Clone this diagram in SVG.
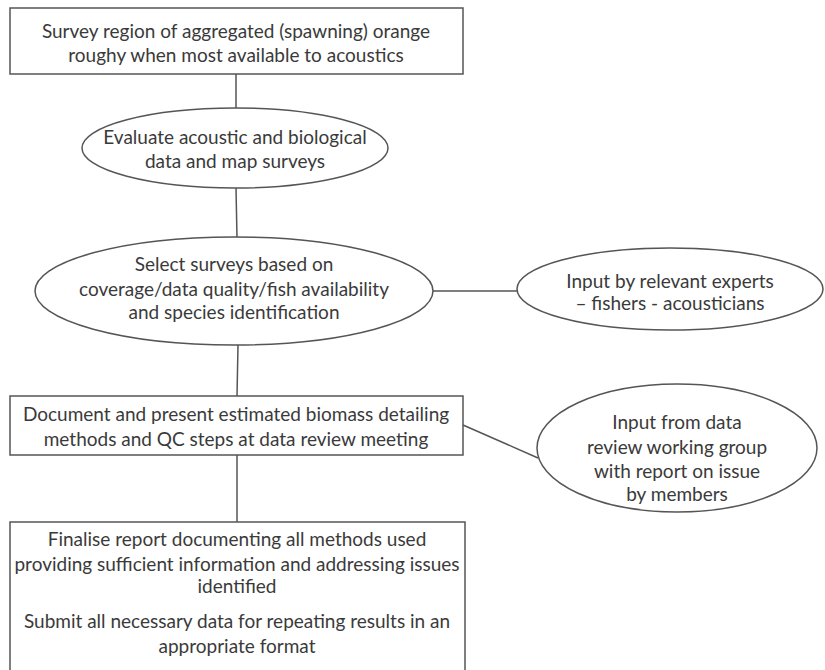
<svg xmlns="http://www.w3.org/2000/svg" width="825" height="670" viewBox="0 0 825 670">
<style>
.s{fill:#fff;stroke:#555;stroke-width:1.5}
.c{stroke:#555;stroke-width:1.5;fill:none}
text{font-family:Lato,"Liberation Sans",Arial,sans-serif;font-size:19px;fill:#3a3a3a;text-anchor:middle}
</style>
<rect width="825" height="670" fill="#fff"/>
<g id="connectors">
<line class="c" x1="236" y1="74" x2="236" y2="108"/>
<line class="c" x1="236" y1="188" x2="237" y2="238"/>
<line class="c" x1="433" y1="291" x2="517" y2="291"/>
<line class="c" x1="238" y1="345" x2="237" y2="396"/>
<line class="c" x1="237" y1="455" x2="237" y2="522"/>
<line class="c" x1="463" y1="425" x2="538" y2="458"/>
</g>
<g id="n1">
<rect class="s" x="10" y="8" width="453" height="66"/>
<text x="236" y="38">Survey region of aggregated (spawning) orange</text>
<text x="236" y="62">roughy when most available to acoustics</text>
</g>
<g id="n2">
<ellipse class="s" cx="235" cy="148" rx="153" ry="40"/>
<text x="235" y="144">Evaluate acoustic and biological</text>
<text x="235" y="168">data and map surveys</text>
</g>
<g id="n3">
<ellipse class="s" cx="234" cy="291" rx="199" ry="54"/>
<text x="234" y="271">Select surveys based on</text>
<text x="234" y="296">coverage/data quality/fish availability</text>
<text x="234" y="319">and species identification</text>
</g>
<g id="n4">
<ellipse class="s" cx="670" cy="289" rx="153" ry="41"/>
<text x="670" y="288">Input by relevant experts</text>
<text x="670" y="310">– fishers - acousticians</text>
</g>
<g id="n5">
<rect class="s" x="10" y="396" width="453" height="59"/>
<text x="236" y="421">Document and present estimated biomass detailing</text>
<text x="236" y="446">methods and QC steps at data review meeting</text>
</g>
<g id="n6">
<ellipse class="s" cx="677" cy="448" rx="140" ry="64"/>
<text x="677" y="429">Input from data</text>
<text x="677" y="454">review working group</text>
<text x="677" y="478">with report on issue</text>
<text x="677" y="501">by members</text>
</g>
<g id="n7">
<rect class="s" x="10" y="522" width="455" height="160"/>
<text x="237" y="546">Finalise report documenting all methods used</text>
<text x="237" y="571">providing sufficient information and addressing issues</text>
<text x="237" y="593">identified</text>
<text x="237" y="628">Submit all necessary data for repeating results in an</text>
<text x="237" y="653">appropriate format</text>
</g>
</svg>
